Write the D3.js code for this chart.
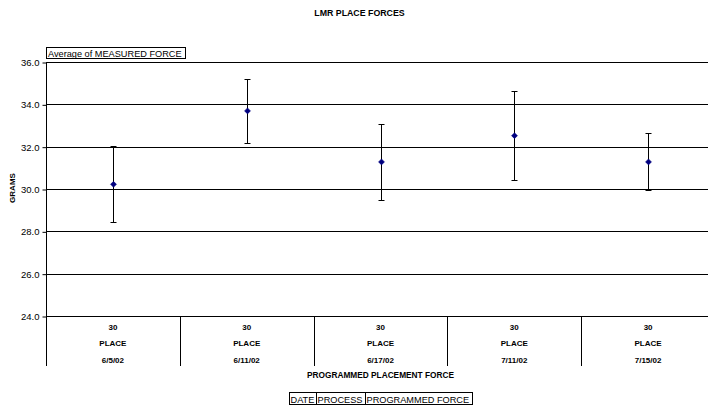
<!DOCTYPE html>
<html><head><meta charset="utf-8">
<script src="https://cdn.jsdelivr.net/npm/d3@7"></script>
<style>body{margin:0;background:#fff}svg{display:block}text{font-family:Arial,"Liberation Sans",sans-serif}</style>
</head><body><svg id="c" width="708" height="408"></svg>
<script>
const dates = ["6/5/02","6/11/02","6/17/02","7/11/02","7/15/02"];
const processes = ["PLACE","PLACE","PLACE","PLACE","PLACE"];
const forces = ["30","30","30","30","30"];
const means = [30.22, 33.69, 31.28, 32.52, 31.28];
const errs = [1.8, 1.5, 1.8, 2.1, 1.35];
const yTicks = [24, 26, 28, 30, 32, 34, 36];

const svg = d3.select("#c");
const L = 46, R = 715, T = 62, B = 316;
const x = d3.scaleBand().domain(d3.range(dates.length)).range([L, R]);
const y = d3.scaleLinear().domain([24, 36]).range([B, T]);

// gridlines
svg.append("g").selectAll("line").data(yTicks).join("line")
  .attr("x1", L).attr("x2", R).attr("y1", d => Math.round(y(d)) + 0.5).attr("y2", d => Math.round(y(d)) + 0.5)
  .attr("stroke", "#000").attr("stroke-width", 1);

// y axis
const ya = d3.axisLeft(y).tickValues(yTicks).tickFormat(d3.format(".1f")).tickSize(4).tickPadding(3);
const yg = svg.append("g").attr("transform", `translate(${L + 0.5},0.5)`).call(ya);
yg.select(".domain").remove();
yg.selectAll("line").attr("stroke", "#000");
yg.selectAll("text").attr("font-size", 9.5).attr("fill", "#000");
svg.append("line").attr("x1", L + 0.5).attr("x2", L + 0.5).attr("y1", T).attr("y2", 366).attr("stroke", "#000");

// category dividers
svg.append("g").selectAll("line").data(d3.range(1, dates.length + 1)).join("line")
  .attr("x1", d => Math.round(x.step() * d + L) + 0.5).attr("x2", d => Math.round(x.step() * d + L) + 0.5)
  .attr("y1", B).attr("y2", 366).attr("stroke", "#000");

// category labels
const cat = svg.append("g").attr("font-size", 8).attr("font-weight", "bold").attr("text-anchor", "middle");
dates.forEach((d, i) => {
  const cx = x(i) + x.bandwidth() / 2;
  cat.append("text").attr("x", cx).attr("y", 329.5).text(forces[i]);
  cat.append("text").attr("x", cx).attr("y", 345.5).text(processes[i]);
  cat.append("text").attr("x", cx).attr("y", 362.5).text(d);
});

// error bars
const eb = svg.append("g").attr("stroke", "#000").attr("stroke-width", 1);
means.forEach((m, i) => {
  const cx = Math.round(x(i) + x.bandwidth() / 2) + 0.5;
  const t = Math.round(y(m + errs[i])) + 0.5, b = Math.round(y(m - errs[i])) + 0.5;
  eb.append("line").attr("x1", cx).attr("x2", cx).attr("y1", t).attr("y2", b);
  eb.append("line").attr("x1", cx - 3).attr("x2", cx + 3).attr("y1", t).attr("y2", t);
  eb.append("line").attr("x1", cx - 3).attr("x2", cx + 3).attr("y1", b).attr("y2", b);
});

// markers
svg.append("g").selectAll("path").data(means).join("path")
  .attr("transform", (d, i) => `translate(${Math.round(x(i) + x.bandwidth() / 2) + 0.5},${y(d)})`)
  .attr("d", "M0,-3L3,0L0,3L-3,0Z").attr("fill", "#000080").attr("stroke", "#000080").attr("stroke-width", 0.5);

// title
svg.append("text").attr("x", 359.5).attr("y", 16).attr("text-anchor", "middle")
  .attr("font-size", 8.8).attr("font-weight", "bold").text("LMR PLACE FORCES");

// y label
svg.append("text").attr("transform", "translate(15,188) rotate(-90)").attr("text-anchor", "middle")
  .attr("font-size", 8).attr("font-weight", "bold").text("GRAMS");

// x label
svg.append("text").attr("x", 380.5).attr("y", 378).attr("text-anchor", "middle")
  .attr("font-size", 8.3).attr("font-weight", "bold").text("PROGRAMMED PLACEMENT FORCE");

// data field box
const df = svg.append("g");
df.append("rect").attr("x", 46.5).attr("y", 47.5).attr("width", 139).attr("height", 11).attr("fill", "#fff").attr("stroke", "#000");
df.append("text").attr("x", 48).attr("y", 56.5).attr("font-size", 9.2).text("Average of MEASURED FORCE");

// row field boxes
const fields = ["DATE", "PROCESS", "PROGRAMMED FORCE"];
const fx = [289, 316, 365, 472];
const fg = svg.append("g");
fields.forEach((f, i) => {
  fg.append("rect").attr("x", fx[i] + 0.5).attr("y", 392.5).attr("width", fx[i + 1] - fx[i]).attr("height", 12)
    .attr("fill", "#fff").attr("stroke", "#000");
  fg.append("text").attr("x", fx[i] + 1.5).attr("y", 402.5).attr("font-size", 9.2).text(f);
});
</script></body></html>
